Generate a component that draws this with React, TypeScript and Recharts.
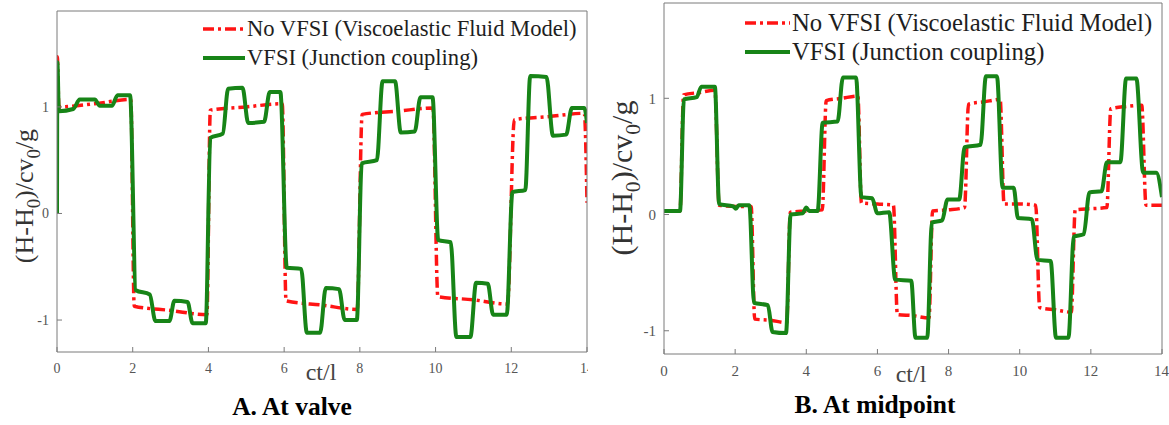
import React from "react";
import { LineChart, Line, XAxis, YAxis, Legend, Label } from "recharts";

// shared axis ticks (ct/l and head)
const timeTicks = [0, 2, 4, 6, 8, 10, 12, 14];
const headTicks = [-1, 0, 1];

// A. At valve
const valveNoVfsiT = [0, 0.008, 0.05, 1.0, 1.95, 2.04, 3.0, 3.96, 4.05, 5.0, 5.95, 6.05, 7.0, 7.93, 8.06, 9.0, 9.93, 10.06, 11.0, 11.9, 12.08, 13.0, 13.93, 14.0];
const valveNoVfsiH = [0, 1.47, 1.0, 1.03, 1.07, -0.87, -0.91, -0.95, 0.97, 1.0, 1.03, -0.82, -0.86, -0.9, 0.93, 0.96, 0.99, -0.78, -0.81, -0.85, 0.88, 0.91, 0.94, 0.1];
const valveVfsiT = [0, 0.01, 0.05, 0.43, 0.6, 1.0, 1.13, 1.45, 1.6, 1.93, 2.08, 2.45, 2.6, 2.97, 3.1, 3.45, 3.58, 3.93, 4.05, 4.38, 4.52, 4.9, 5.05, 5.47, 5.62, 5.9, 6.07, 6.45, 6.6, 6.95, 7.1, 7.45, 7.6, 7.92, 8.05, 8.45, 8.6, 8.93, 9.08, 9.45, 9.6, 9.92, 10.07, 10.4, 10.55, 10.92, 11.07, 11.38, 11.52, 11.88, 12.03, 12.37, 12.5, 12.93, 13.1, 13.45, 13.6, 13.93, 14.0];
const valveVfsiH = [0, 1.42, 0.96, 0.98, 1.07, 1.07, 1.01, 1.01, 1.11, 1.11, -0.72, -0.76, -1.01, -1.01, -0.82, -0.83, -1.03, -1.03, 0.71, 0.75, 1.17, 1.18, 0.85, 0.86, 1.14, 1.14, -0.51, -0.52, -1.12, -1.12, -0.7, -0.71, -1.0, -1.0, 0.47, 0.5, 1.24, 1.24, 0.76, 0.77, 1.09, 1.09, -0.25, -0.27, -1.16, -1.16, -0.65, -0.66, -0.95, -0.95, 0.2, 0.22, 1.29, 1.28, 0.73, 0.74, 0.99, 0.99, 0.85];

// B. At midpoint
const midNoVfsiT = [0, 0.45, 0.55, 1.0, 1.43, 1.55, 2.0, 2.45, 2.55, 3.0, 3.45, 3.55, 4.0, 4.45, 4.56, 5.0, 5.45, 5.55, 6.0, 6.45, 6.56, 7.0, 7.45, 7.55, 8.0, 8.45, 8.56, 9.0, 9.45, 9.56, 10.0, 10.45, 10.56, 11.0, 11.45, 11.56, 12.0, 12.45, 12.56, 13.0, 13.43, 13.55, 14.0];
const midNoVfsiH = [0.03, 0.03, 1.03, 1.05, 1.07, 0.08, 0.07, 0.07, -0.9, -0.91, -0.93, 0.02, 0.03, 0.04, 0.98, 1.0, 1.02, 0.1, 0.09, 0.08, -0.86, -0.87, -0.89, 0.03, 0.04, 0.06, 0.95, 0.97, 0.99, 0.09, 0.09, 0.08, -0.8, -0.82, -0.84, 0.04, 0.05, 0.06, 0.91, 0.93, 0.94, 0.08, 0.08];
const midVfsiT = [0, 0.45, 0.56, 0.92, 1.05, 1.43, 1.55, 1.95, 2.02, 2.1, 2.4, 2.53, 2.92, 3.05, 3.43, 3.56, 3.9, 4.0, 4.08, 4.32, 4.46, 4.88, 5.03, 5.4, 5.55, 5.85, 6.0, 6.33, 6.5, 6.95, 7.07, 7.4, 7.53, 7.82, 7.97, 8.3, 8.45, 8.9, 9.05, 9.36, 9.52, 9.83, 9.95, 10.34, 10.5, 10.87, 11.02, 11.37, 11.52, 11.8, 11.96, 12.3, 12.45, 12.83, 12.99, 13.28, 13.47, 13.84, 14.0];
const midVfsiH = [0.03, 0.03, 0.99, 1.01, 1.1, 1.1, 0.09, 0.07, 0.05, 0.08, 0.08, -0.76, -0.78, -1.01, -1.02, 0.0, 0.01, 0.06, 0.03, 0.03, 0.79, 0.8, 1.18, 1.18, 0.15, 0.14, 0.01, 0.02, -0.56, -0.57, -1.06, -1.06, -0.07, -0.05, 0.13, 0.13, 0.58, 0.6, 1.19, 1.19, 0.23, 0.23, -0.03, -0.04, -0.39, -0.4, -1.06, -1.06, -0.19, -0.17, 0.19, 0.2, 0.45, 0.45, 1.17, 1.17, 0.36, 0.36, 0.15];

const NO_VFSI = "No VFSI (Viscoelastic Fluid Model)";
const VFSI = "VFSI (Junction coupling)";

const SERIF = '"Liberation Serif", "Times New Roman", Times, serif';
const RED = "#ff1414";
const GREEN = "#178417";
const AXIS = "#7a7a7a";
const RED_DASH = "11 4 3 4";

const zip = (t: number[], h: number[]) => t.map((v, i) => ({ t: v, h: h[i] }));

const LegendBox = ({ payload, fontSize, sample }: any) => (
  <div style={{ fontFamily: SERIF, fontSize, color: "#1e1e1e" }}>
    {(payload || []).map((entry: any, i: number) => {
      const dashed = entry.color === RED;
      return (
        <div key={i} style={{ display: "flex", alignItems: "center", height: 29, whiteSpace: "nowrap" }}>
          <svg width={sample} height={8} style={{ marginRight: 2 }}>
            <line x1={0} y1={4} x2={sample} y2={4} stroke={entry.color} strokeWidth={dashed ? 3.5 : 4}
              strokeDasharray={dashed ? RED_DASH : undefined} />
          </svg>
          <span>{entry.value}</span>
        </div>
      );
    })}
  </div>
);

const HeadLabel = ({ x, y, size }: { x: number; y: number; size: number }) => {
  const sub = size * 0.28;
  const small = size * 0.72;
  return (
    <text x={x} y={y} transform={`rotate(-90 ${x} ${y})`} textAnchor="middle" fontFamily={SERIF} fontSize={size} fill="#333">
      (H-H<tspan dy={sub} fontSize={small}>0</tspan>
      <tspan dy={-sub}>)/cv</tspan>
      <tspan dy={sub} fontSize={small}>0</tspan>
      <tspan dy={-sub}>/g</tspan>
    </text>
  );
};

type PanelProps = {
  left: number;
  width: number;
  margin: { top: number; right: number; bottom: number; left: number };
  yAxisWidth: number;
  yDomain: [number, number];
  noVfsi: { t: number; h: number }[];
  vfsi: { t: number; h: number }[];
  head: { x: number; y: number; size: number };
  time: { x: number; y: number };
  title: { text: string; x: number; y: number };
  legend: { left: number; top: number; size: number; sample: number };
  tickFont: number;
};

const Panel = (p: PanelProps) => (
  <div style={{ position: "absolute", left: p.left, top: 0, width: p.width, height: 425, background: "#fff" }}>
    <LineChart width={p.width} height={425} margin={p.margin}>
      <XAxis dataKey="t" type="number" domain={[0, 14]} ticks={timeTicks} allowDataOverflow
        height={30} stroke={AXIS} tickSize={-5} tickMargin={16}
        tick={{ fill: "#555", fontFamily: SERIF, fontSize: p.tickFont }}>
        <Label content={() => (
          <text x={p.time.x} y={p.time.y} textAnchor="middle" fontFamily={SERIF} fontSize={24} fill="#444">ct/l</text>
        )} />
        <Label content={() => (
          <text x={p.title.x} y={p.title.y} textAnchor="middle" fontFamily={SERIF} fontSize={25.5} fontWeight="bold" fill="#000">{p.title.text}</text>
        )} />
      </XAxis>
      <XAxis xAxisId="top" orientation="top" dataKey="t" type="number" domain={[0, 14]} ticks={timeTicks}
        allowDataOverflow height={1} stroke={AXIS} tickSize={-5} tick={false} />
      <YAxis type="number" domain={p.yDomain} ticks={headTicks} allowDataOverflow width={p.yAxisWidth}
        stroke={AXIS} tickSize={-5} tickMargin={13}
        tick={{ fill: "#555", fontFamily: SERIF, fontSize: p.tickFont }}>
        <Label content={() => <HeadLabel x={p.head.x} y={p.head.y} size={p.head.size} />} />
      </YAxis>
      <YAxis yAxisId="right" orientation="right" type="number" domain={p.yDomain} ticks={headTicks}
        allowDataOverflow width={1} stroke={AXIS} tickSize={-5} tick={false} />
      <Legend layout="horizontal" verticalAlign="middle" align="center"
        wrapperStyle={{ left: p.legend.left, top: p.legend.top, width: 420 }}
        content={<LegendBox fontSize={p.legend.size} sample={p.legend.sample} />} />
      <Line data={p.noVfsi} dataKey="h" name={NO_VFSI} type="monotone" stroke={RED} strokeWidth={3.5}
        strokeDasharray={RED_DASH} dot={false} isAnimationActive={false} />
      <Line data={p.vfsi} dataKey="h" name={VFSI} type="monotone" stroke={GREEN} strokeWidth={4}
        dot={false} isAnimationActive={false} />
    </LineChart>
  </div>
);

export default function App() {
  return (
    <div style={{ position: "absolute", left: 0, top: 0, width: 1169, height: 425, background: "#fff", overflow: "hidden" }}>
      <Panel
        left={0}
        width={600}
        margin={{ top: 10, right: 12, bottom: 43, left: 0 }}
        yAxisWidth={57}
        yDomain={[-1.3, 1.9]}
        noVfsi={zip(valveNoVfsiT, valveNoVfsiH)}
        vfsi={zip(valveVfsiT, valveVfsiH)}
        head={{ x: 33, y: 196, size: 26 }}
        time={{ x: 321, y: 380 }}
        title={{ text: "A. At valve", x: 292, y: 415 }}
        legend={{ left: 203, top: 14.5, size: 22.6, sample: 42 }}
        tickFont={14}
      />
      <Panel
        left={588}
        width={581}
        margin={{ top: 2, right: 6, bottom: 41, left: 0 }}
        yAxisWidth={76}
        yDomain={[-1.2, 1.82]}
        noVfsi={zip(midNoVfsiT, midNoVfsiH)}
        vfsi={zip(midVfsiT, midVfsiH)}
        head={{ x: 44, y: 178, size: 30 }}
        time={{ x: 323, y: 382 }}
        title={{ text: "B. At midpoint", x: 287, y: 413 }}
        legend={{ left: 157, top: 8.5, size: 24.7, sample: 45 }}
        tickFont={15}
      />
    </div>
  );
}
